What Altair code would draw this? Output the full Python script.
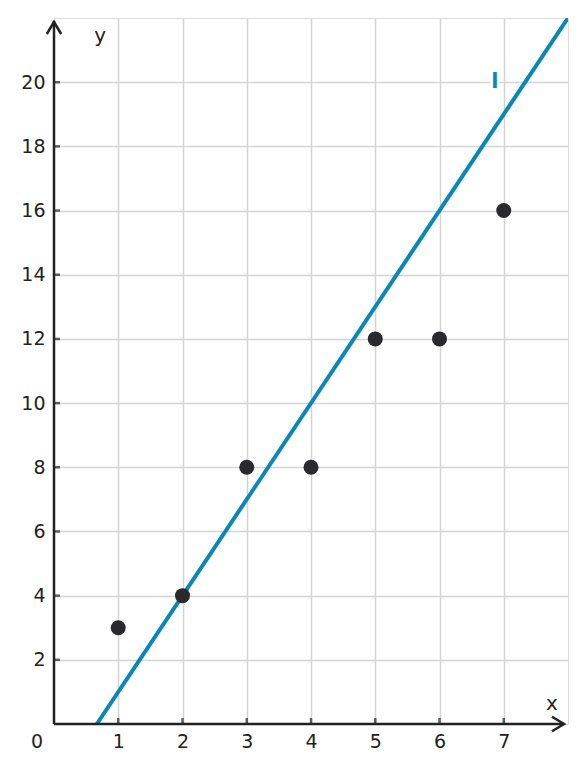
import altair as alt
import pandas as pd

# data
pts_x = [1, 2, 3, 4, 5, 6, 7]
pts_y = [3, 4, 8, 8, 12, 12, 16]
line_x = [2 / 3, 8]
line_y = [0, 22]
x_ticks = [1, 2, 3, 4, 5, 6, 7]
y_ticks = [2, 4, 6, 8, 10, 12, 14, 16, 18, 20]
x_domain = [0, 8]
y_domain = [0, 22]

FONT = "DejaVu Sans"
DARK = "#222222"
BLUE = "#0a87b8"
FS = 19

pts = pd.DataFrame({"x": pts_x, "y": pts_y})
line = pd.DataFrame({"x": line_x, "y": line_y})
xt = pd.DataFrame({"x": x_ticks, "y": [0] * len(x_ticks)})
yt = pd.DataFrame({"x": [0] * len(y_ticks), "y": y_ticks})
one = pd.DataFrame({"k": [0]})

xs = alt.Scale(domain=x_domain, nice=False, zero=False)
ys = alt.Scale(domain=y_domain, nice=False, zero=False)

AX = alt.Axis(values=x_ticks, grid=True, domain=False, ticks=False,
              labelFontSize=FS, labelFont=FONT, labelColor=DARK,
              labelPadding=8, title=None, gridColor="#d4d4d4", gridWidth=1.5)
AY = alt.Axis(values=y_ticks, grid=True, domain=False, ticks=False,
              labelFontSize=FS, labelFont=FONT, labelColor=DARK,
              labelPadding=9, title=None, gridColor="#d4d4d4", gridWidth=1.5)


def X(f):
    return alt.X(f, scale=xs, axis=AX)


def Y(f):
    return alt.Y(f, scale=ys, axis=AY)


def DX(v):
    return alt.XDatum(v, scale=xs, axis=AX)


def DY(v):
    return alt.YDatum(v, scale=ys, axis=AY)


# axis lines
yaxis_line = alt.Chart(one).mark_rule(color=DARK, strokeWidth=2.5).encode(
    x=DX(0), y=DY(0), y2=alt.datum(21.9)
)
xaxis_line = alt.Chart(one).mark_rule(color=DARK, strokeWidth=2.5).encode(
    y=DY(0), x=DX(0), x2=alt.datum(7.94)
)
up_arrow = alt.Chart(one).mark_point(
    shape="M-0.6,1 L0,0 L0.6,1", size=576, filled=False, stroke=DARK,
    strokeWidth=2.5, opacity=1, yOffset=4
).encode(x=DX(0), y=DY(22))
right_arrow = alt.Chart(one).mark_point(
    shape="M-1,-0.6 L0,0 L-1,0.6", size=576, filled=False, stroke=DARK,
    strokeWidth=2.5, opacity=1, xOffset=-4
).encode(x=DX(8), y=DY(0))

xticks = alt.Chart(xt).mark_tick(orient="vertical", size=6, thickness=2.5,
                                 color=DARK, yOffset=-3).encode(x=X("x:Q"), y=Y("y:Q"))
yticks = alt.Chart(yt).mark_tick(orient="horizontal", size=6, thickness=2.5,
                                 color=DARK, xOffset=3).encode(x=X("x:Q"), y=Y("y:Q"))

lin = alt.Chart(line).mark_line(color=BLUE, strokeWidth=4, clip=True).encode(
    x=X("x:Q"), y=Y("y:Q")
)
dots = alt.Chart(pts).mark_circle(size=225, color="#2a2a2e", opacity=1).encode(
    x=X("x:Q"), y=Y("y:Q")
)


def txt(t, size, fill, weight="normal", **kw):
    return alt.Chart(one).mark_text(text=t, font=FONT, fontSize=size, fontWeight=weight,
                                    fill=fill, **kw)


origin = txt("0", FS, DARK, dx=-17, dy=18).encode(x=DX(0), y=DY(0))
xtitle = txt("x", FS + 1, DARK, dy=-20).encode(x=DX(7.75), y=DY(0))
ytitle = txt("y", FS + 1, DARK).encode(x=DX(0.72), y=DY(21.45))

lab_halo = alt.Chart(one).mark_text(text="l", font=FONT, fontSize=21, fontWeight="bold",
                                    fill="white", stroke="white", strokeWidth=5).encode(
    x=DX(6.86), y=DY(20))
lab = txt("l", 21, BLUE, weight="bold").encode(x=DX(6.86), y=DY(20))

chart = alt.layer(
    lab_halo, lab, lin, yaxis_line, xaxis_line, up_arrow, right_arrow,
    xticks, yticks, dots, origin, xtitle, ytitle
).properties(
    width=514, height=706,
    autosize=alt.AutoSizeParams(type="none"),
    padding={"left": 46, "top": 10, "right": 9, "bottom": 40},
).configure_view(stroke=None).configure(background="white")

chart.save("out.html", embed_options={"renderer": "svg", "actions": False})
